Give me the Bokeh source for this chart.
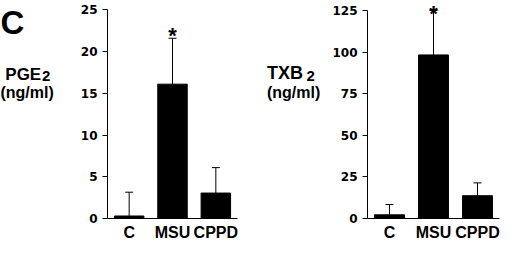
from bokeh.plotting import figure
from bokeh.models import Range1d, FixedTicker, Whisker, TeeHead, ColumnDataSource
from bokeh.layouts import row
from bokeh.embed import file_html
from bokeh.resources import INLINE
from bokeh.core.properties import value

# ---- data ----
categories = ["C", "MSU", "CPPD"]
pge2_mean = [0.3, 16.1, 3.05]
pge2_upper = [3.15, 21.6, 6.1]
txb2_mean = [2.2, 98.3, 13.7]
txb2_upper = [8.4, 125.0, 21.4]
pge2_ticks = [0, 5, 10, 15, 20, 25]
txb2_ticks = [0, 25, 50, 75, 100, 125]
significance = ["", "*", ""]

FONT = "Liberation Sans"
H = 243
BORDER_BOTTOM = 25
FRAME_H = H - BORDER_BOTTOM


def label_column(width, items):
    """A frame-only figure holding the free-standing texts left of a panel."""
    f = figure(width=width, height=H, x_range=Range1d(0, width), y_range=Range1d(H, 0),
               x_axis_type=None, y_axis_type=None, output_backend="svg",
               toolbar_location=None, min_border=0, min_border_left=0,
               min_border_right=0, min_border_top=0, min_border_bottom=0)
    f.outline_line_color = None
    f.grid.visible = False
    f.background_fill_color = "white"
    f.border_fill_color = "white"
    for text, x, y, size, align in items:
        f.text(x=[x], y=[y], text=[text], text_font=value(FONT), text_font_style="bold",
               text_font_size=size, text_align=align, text_baseline="alphabetic",
               text_color="black")
    return f


def make_panel(width, means, uppers, ticks, top_px, left_border, right_border, star_gap_px):
    ymax = ticks[-1]
    ppu = (FRAME_H - top_px) / ymax
    yend = FRAME_H / ppu

    p = figure(width=width, height=H, x_range=Range1d(-0.5, 2.5), y_range=Range1d(0, yend),
               output_backend="svg", toolbar_location=None,
               min_border_left=left_border, min_border_right=right_border,
               min_border_top=0, min_border_bottom=BORDER_BOTTOM)
    p.outline_line_color = None
    p.grid.visible = False
    p.background_fill_color = "white"
    p.border_fill_color = "white"

    xs = list(range(len(categories)))
    # the asterisk text box hangs from a point a few pixels above the error bar cap
    star_y = [u + star_gap_px / ppu for u in uppers]
    src = ColumnDataSource(dict(x=xs, mean=means, upper=uppers, star=significance, star_y=star_y))

    p.vbar(x="x", top="mean", width=0.68, source=src, fill_color="black", line_color="black")
    p.add_layout(Whisker(source=src, base="x", lower="mean", upper="upper", dimension="height",
                         line_color="black", line_width=1,
                         upper_head=TeeHead(size=8, line_color="black", line_width=1),
                         lower_head=None))
    p.text(x="x", y="star_y", text="star", source=src, text_align="center",
           text_baseline="top", text_font=value(FONT), text_font_style="bold",
           text_font_size="22px", text_color="black")

    ya = p.yaxis[0]
    ya.ticker = FixedTicker(ticks=ticks)
    ya.bounds = (0, ymax)
    ya.major_tick_in = 0
    ya.major_tick_out = 5
    ya.minor_tick_line_color = None
    ya.major_label_standoff = 5
    ya.major_label_text_font = "DejaVu Sans"
    ya.major_label_text_font_style = "bold"
    ya.major_label_text_font_size = "12px"
    ya.major_label_text_color = "black"
    ya.axis_line_color = "black"
    ya.major_tick_line_color = "black"

    xa = p.xaxis[0]
    xa.ticker = FixedTicker(ticks=xs)
    xa.major_label_overrides = {i: c for i, c in enumerate(categories)}
    xa.major_tick_in = 0
    xa.major_tick_out = 0
    xa.minor_tick_line_color = None
    xa.major_label_standoff = 5
    xa.axis_label_standoff = 0
    xa.major_label_text_font = FONT
    xa.major_label_text_font_style = "bold"
    xa.major_label_text_font_size = "16px"
    xa.major_label_text_color = "black"
    xa.axis_line_color = "black"
    return p


lab1 = label_column(60, [
    ("C", 0, 24.5, "33px", "left"),
    ("PGE", 4.8, 82.0, "17px", "left"),
    ("2", 41.5, 84.5, "15px", "left"),
    ("(ng/ml)", 26.6, 102.0, "16px", "center"),
])
p1 = make_panel(192, pge2_mean, pge2_upper, pge2_ticks, 9.4, 47, 15, 14.8)

lab2 = label_column(70, [
    ("TXB", 14.5, 81.0, "18px", "left"),
    ("2", 54.0, 84.0, "15px", "left"),
    ("(ng/ml)", 41.1, 102.0, "16px", "center"),
])
p2 = make_panel(182, txb2_mean, txb2_upper, txb2_ticks, 10.0, 45, 5, 9.5)

layout = row(lab1, p1, lab2, p2)
open("out.html", "w").write(file_html(layout, INLINE))
